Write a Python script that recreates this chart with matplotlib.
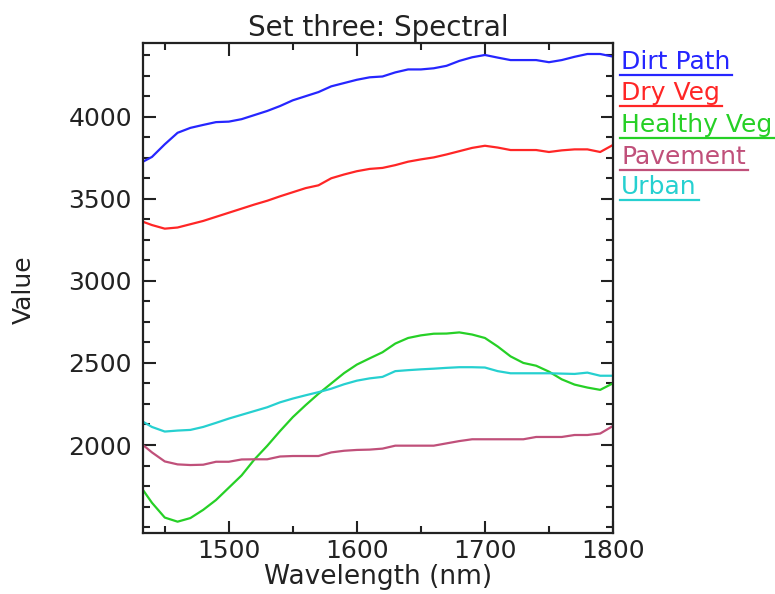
import matplotlib
matplotlib.use("Agg")
import matplotlib.pyplot as plt
from matplotlib.lines import Line2D
from matplotlib.ticker import MultipleLocator

wavelength = [1433, 1440, 1450, 1460, 1470, 1480, 1490, 1500, 1510, 1520,
              1530, 1540, 1550, 1560, 1570, 1580, 1590, 1600, 1610, 1620,
              1630, 1640, 1650, 1660, 1670, 1680, 1690, 1700, 1710, 1720,
              1730, 1740, 1750, 1760, 1770, 1780, 1790, 1800]

dirt_path = [3726, 3755, 3832, 3902, 3932, 3950, 3967, 3970, 3985, 4010,
             4035, 4065, 4100, 4125, 4150, 4185, 4205, 4225, 4240, 4245,
             4270, 4288, 4288, 4295, 4310, 4340, 4362, 4376, 4360, 4345,
             4345, 4345, 4332, 4345, 4365, 4382, 4382, 4366]

dry_veg = [3360, 3340, 3318, 3325, 3345, 3365, 3390, 3415, 3440, 3465,
           3488, 3515, 3540, 3565, 3582, 3625, 3648, 3668, 3682, 3688,
           3705, 3726, 3740, 3752, 3770, 3790, 3810, 3823, 3812, 3797,
           3797, 3797, 3785, 3795, 3801, 3801, 3785, 3828]

healthy_veg = [1726, 1648, 1558, 1533, 1555, 1605, 1665, 1740, 1815, 1912,
               1995, 2085, 2170, 2243, 2312, 2375, 2438, 2490, 2528, 2565,
               2618, 2652, 2668, 2678, 2679, 2686, 2673, 2652, 2600, 2540,
               2500, 2483, 2447, 2400, 2368, 2350, 2336, 2376]

pavement = [2000, 1955, 1900, 1882, 1878, 1880, 1898, 1898, 1912, 1913,
            1913, 1930, 1933, 1933, 1933, 1955, 1965, 1970, 1972, 1978,
            1996, 1996, 1996, 1996, 2010, 2024, 2035, 2035, 2035, 2035,
            2035, 2049, 2049, 2049, 2061, 2061, 2070, 2116]

urban = [2142, 2110, 2082, 2088, 2092, 2110, 2135, 2161, 2184, 2207,
         2230, 2260, 2283, 2303, 2322, 2343, 2370, 2392, 2406, 2415,
         2450, 2456, 2461, 2465, 2470, 2474, 2474, 2472, 2450, 2437,
         2437, 2437, 2437, 2435, 2433, 2441, 2422, 2422]

series_names = ["Dirt Path", "Dry Veg", "Healthy Veg", "Pavement", "Urban"]
series_values = [dirt_path, dry_veg, healthy_veg, pavement, urban]
colors = ["#2626ff", "#ff2626", "#26d026", "#c0507a", "#26d0d0"]

title = "Set three: Spectral"
xlabel = "Wavelength (nm)"
ylabel = "Value"
xticks = [1500, 1600, 1700, 1800]
yticks = [2000, 2500, 3000, 3500, 4000]

plt.rcParams['font.family'] = ['DejaVu Sans']
W, H = 775, 594
fig = plt.figure(figsize=(W / 100, H / 100), dpi=100)
ax = fig.add_axes([143 / W, 1 - 533 / H, (613 - 143) / W, (533 - 43) / H])

for vals, col in zip(series_values, colors):
    ax.plot(wavelength, vals, color=col, lw=1.6, solid_joinstyle='round')

ax.set_xlim(1433, 1800)
ax.set_ylim(1464, 4449)
ax.set_xticks(xticks)
ax.set_yticks(yticks)
ax.xaxis.set_minor_locator(MultipleLocator(50))
ax.yaxis.set_minor_locator(MultipleLocator(125))
ax.tick_params(which='both', direction='in', top=True, right=True,
               colors='#222222', labelsize=18, width=1.5)
ax.tick_params(which='major', length=9)
ax.tick_params(which='minor', length=5)
ax.tick_params(axis='x', pad=4)
ax.tick_params(axis='y', pad=8)
for sp in ax.spines.values():
    sp.set_linewidth(1.6)
    sp.set_color('#222222')

ax.set_title(title, fontsize=20, color='#222222', pad=5)
fig.text(378 / W, 1 - 584 / H, xlabel, ha='center', va='baseline',
         fontsize=19, color='#222222')
fig.text(24 / W, 1 - 290 / H, ylabel, ha='center', va='center',
         rotation=90, fontsize=18, color='#222222')

# legend: coloured text with underline
fig.canvas.draw()
renderer = fig.canvas.get_renderer()
legend_y = [62, 93, 125, 157, 187]
for name, col, yc in zip(series_names, colors, legend_y):
    t = fig.text(621 / W, 1 - yc / H, name, ha='left', va='center',
                 fontsize=18, color=col)
    bb = t.get_window_extent(renderer)
    yline = 1 - (yc + 13) / H
    x1 = min(bb.x1 + 2, W - 1)
    fig.add_artist(Line2D([620 / W, x1 / W], [yline, yline],
                          transform=fig.transFigure, color=col, lw=1.6))

fig.savefig("out.png", dpi=100)
